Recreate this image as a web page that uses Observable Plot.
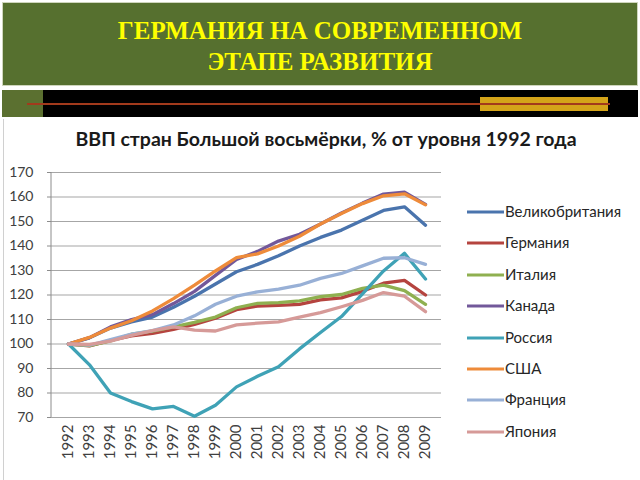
<!DOCTYPE html>
<html>
<head>
<meta charset="utf-8">
<script src="https://cdn.jsdelivr.net/npm/d3@7"></script>
<script src="https://cdn.jsdelivr.net/npm/@observablehq/plot@0.6"></script>
<style>
  body { margin: 0; background: #fff; }
  #slide { position: relative; width: 640px; height: 480px; overflow: hidden; background: #fff;
           font-family: Lato, "Noto Sans", sans-serif; }
  #head { position: absolute; left: 2px; top: 2px; width: 636px; height: 84px; box-sizing: border-box;
          background: #56702f; border: 1px solid #cfd6bd; color: #ffff00; text-align: center;
          font: bold 25px "Liberation Serif", "Times New Roman", serif; line-height: 31px; padding-top: 12px; }
  #stripL { position: absolute; left: 2px; top: 90px; width: 41px; height: 27px; background: #5b7030; }
  #stripB { position: absolute; left: 43px; top: 90px; width: 595px; height: 27px; background: #000; }
  #gold { position: absolute; left: 480px; top: 97px; width: 128px; height: 14px; background: #d4a419; }
  #redline { position: absolute; left: 27px; top: 103px; width: 583px; height: 1.5px; background: #a23a1c; }
  #border { position: absolute; left: 3px; top: 119px; width: 1px; height: 361px; background: #d0d0d0; }
  #title { position: absolute; left: 0; width: 652px; top: 127px; text-align: center;
           font-weight: bold; font-size: 19.5px; color: #1a1a1a; }
  #chart { position: absolute; left: 0; top: 160px; }
  #legend { position: absolute; left: 467px; top: 200px; }
  .li { position: absolute; left: 0; height: 22px; white-space: nowrap; font-size: 15px; color: #262626; }
  .li svg { position: absolute; left: 0; top: 10px; }
  .li span { position: absolute; left: 38px; top: 0; line-height: 22px; }
</style>
</head>
<body>
<div id="slide">
  <div id="head">ГЕРМАНИЯ НА СОВРЕМЕННОМ<br>ЭТАПЕ РАЗВИТИЯ</div>
  <div id="stripL"></div>
  <div id="stripB"></div>
  <div id="gold"></div>
  <div id="redline"></div>
  <div id="border"></div>
  <div id="title">ВВП стран Большой восьмёрки, % от уровня 1992 года</div>
  <div id="chart"></div>
  <div id="legend"></div>
</div>
<script>
const years = [1992,1993,1994,1995,1996,1997,1998,1999,2000,2001,2002,2003,2004,2005,2006,2007,2008,2009];
const yTicks = [70,80,90,100,110,120,130,140,150,160,170];
const countries = ["Великобритания","Германия","Италия","Канада","Россия","США","Франция","Япония"];
const colors = ["#4a74ad","#b5443f","#8fb050","#72589a","#3fa2b6","#ee8b3a","#98b0d6","#d69a98"];

const uk      = [100,102.5,106.5,109,111,115,119.5,124.5,129.5,132.5,136,140,143.5,146.5,150.5,154.5,156,148.5];
const germany = [100,99.2,101.5,103.3,104.3,106,108,110.5,114,115.5,115.8,116.2,118,118.8,121.5,124.8,126,120];
const italy   = [100,99.3,101.3,104,105.3,107,108.8,111,114.8,116.6,116.9,117.6,119.3,120.2,122.7,124,121.8,116.2];
const canada  = [100,102.6,107,110,112,116.5,121.5,128,134.5,137.8,142,144.8,149,153.5,157.5,161.2,162,157];
const russia  = [100,91.5,80,76.5,73.5,74.5,70.5,75,82.5,86.8,90.7,98,104.7,111.2,120.5,129.8,137,126.5];
const usa     = [100,102.7,106.5,109.5,113.5,118.5,124,129.8,135.3,136.8,140,144,149,153.3,157.3,160.5,161.3,156.8];
const france  = [100,99.5,101.8,104,105.5,107.8,111.5,116.2,119.5,121.3,122.4,124,126.8,128.8,131.9,135,135.2,132.5];
const japan   = [100,99.8,101.2,103.5,105.5,107,105.7,105.3,107.8,108.5,109,111,112.8,115.2,117.8,121,119.5,113.2];

const seriesValues = [uk, germany, italy, canada, russia, usa, france, japan];
const data = [];
countries.forEach((c, i) => years.forEach((yr, j) => data.push({country: c, year: yr, value: seriesValues[i][j]})));

const axisLine = (index, scales, values, dims) => {
  const l = document.createElementNS("http://www.w3.org/2000/svg", "line");
  l.setAttribute("x1", dims.marginLeft); l.setAttribute("x2", dims.marginLeft);
  l.setAttribute("y1", scales.y(yTicks[yTicks.length - 1])); l.setAttribute("y2", scales.y(yTicks[0]));
  l.setAttribute("stroke", "#8c8c8c");
  return l;
};

const chart = Plot.plot({
  width: 640, height: 320,
  marginLeft: 51, marginRight: 199, marginTop: 12, marginBottom: 63,
  style: {fontFamily: "Lato, 'Noto Sans', sans-serif", fontSize: "14px", color: "#404040", background: "transparent"},
  x: {type: "point", domain: years, padding: 0.5},
  y: {domain: [70, 170]},
  color: {domain: countries, range: colors},
  marks: [
    Plot.ruleY(yTicks, {stroke: "#a6a6a6", strokeWidth: 1.2}),
    axisLine,
    Plot.axisY({ticks: yTicks, tickSize: 4, tickPadding: 14, stroke: "#8c8c8c", fill: "#404040", label: null}),
    Plot.axisX({tickSize: 0, tickPadding: 7, tickRotate: -90, fill: "#404040", label: null, fontSize: 15, tickFormat: d => String(d)}),
    Plot.line(data, {x: "year", y: "value", z: "country", stroke: "country", strokeWidth: 3.3, strokeLinejoin: "round", strokeLinecap: "round"})
  ]
});
document.getElementById("chart").appendChild(chart);

const legend = document.getElementById("legend");
countries.forEach((c, i) => {
  const d = document.createElement("div");
  d.className = "li";
  d.style.top = (i * 31.4) + "px";
  d.innerHTML = `<svg width="37" height="4"><line x1="0" x2="37" y1="2" y2="2" stroke="${colors[i]}" stroke-width="3"/></svg><span>${c}</span>`;
  legend.appendChild(d);
});
</script>
</body>
</html>
